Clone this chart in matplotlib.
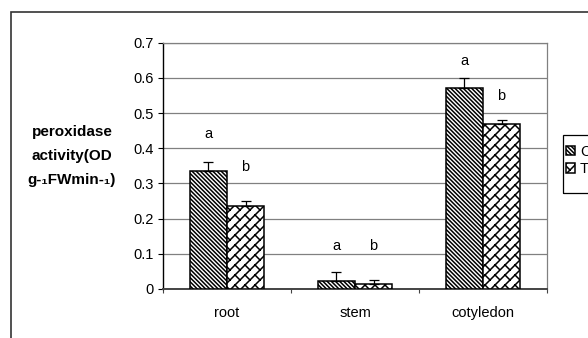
import numpy as np
import matplotlib
matplotlib.use('Agg')
import matplotlib.pyplot as plt
import matplotlib.hatch as mhatch
from matplotlib.path import Path
from matplotlib.patches import Rectangle

# data
categories = ['root', 'stem', 'cotyledon']
series_names = ['C', 'T']
control = [0.334, 0.023, 0.572]
control_err = [0.027, 0.025, 0.027]
treated = [0.237, 0.014, 0.470]
treated_err = [0.013, 0.012, 0.011]
letters_c = ['a', 'a', 'a']
letters_c_y = [0.440, 0.122, 0.648]
letters_t = ['b', 'b', 'b']
letters_t_y = [0.347, 0.122, 0.548]
yticks = [0, 0.1, 0.2, 0.3, 0.4, 0.5, 0.6, 0.7]
ytick_labels = ['0', '0.1', '0.2', '0.3', '0.4', '0.5', '0.6', '0.7']
ylabel = 'peroxidase\nactivity(OD\ng-\u2081FWmin-\u2081)'


# Excel-like "diagonal brick" fill, hooked onto the '*' hatch character
class DiagonalBrick(mhatch.HatchPatternBase):
    def __init__(self, hatch, density):
        self.num_cells = int(hatch.count('*') * density * 5 / 3)
        self.num_vertices = self.num_cells ** 2 * 4

    def set_vertices_and_codes(self, vertices, codes):
        n = self.num_cells
        i, j = np.meshgrid(np.arange(n), np.arange(n))
        x0 = i.ravel() / n
        y0 = j.ravel() / n
        s = 1.0 / n
        vertices[0::4, 0] = x0
        vertices[0::4, 1] = y0
        vertices[1::4, 0] = x0 + s
        vertices[1::4, 1] = y0 + s
        vertices[2::4, 0] = x0 + s / 2
        vertices[2::4, 1] = y0 + s / 2
        vertices[3::4, 0] = x0 + s
        vertices[3::4, 1] = y0
        codes[0::4] = Path.MOVETO
        codes[1::4] = Path.LINETO
        codes[2::4] = Path.MOVETO
        codes[3::4] = Path.LINETO


mhatch._hatch_types = [h for h in mhatch._hatch_types if h is not mhatch.Stars] + [DiagonalBrick]

plt.rcParams['font.family'] = ['Liberation Sans', 'DejaVu Sans']
plt.rcParams['hatch.linewidth'] = 1.1
plt.rcParams['hatch.color'] = 'black'

fig = plt.figure(figsize=(5.88, 3.38), dpi=100)
ax = fig.add_axes([0.2772, 0.145, 0.6531, 0.7287])

# outer chart border (cut off at right and bottom)
fig.patches.append(Rectangle((11 / 588, -0.2), 2.0, 1.2 - 12 / 338, transform=fig.transFigure,
                             fill=False, edgecolor='#333333', linewidth=1.2))
# legend frame, also cut off at the right
fig.patches.append(Rectangle((563 / 588, 1 - 193 / 338), 0.2, 58 / 338, transform=fig.transFigure,
                             fill=False, edgecolor='black', linewidth=0.9))

x = np.arange(len(categories))
w = 0.29
ax.bar(x - w / 2, control, w, facecolor='white', edgecolor='black', linewidth=1.1,
       hatch='\\' * 8, label=series_names[0], zorder=3)
ax.bar(x + w / 2, treated, w, facecolor='white', edgecolor='black', linewidth=1.1,
       hatch='*', label=series_names[1], zorder=3)
ax.errorbar(x - w / 2, control, yerr=[np.zeros(len(control)), control_err], fmt='none',
            ecolor='black', elinewidth=0.9, capsize=3.6, capthick=0.9, zorder=4)
ax.errorbar(x + w / 2, treated, yerr=[np.zeros(len(treated)), treated_err], fmt='none',
            ecolor='black', elinewidth=0.9, capsize=3.6, capthick=0.9, zorder=4)

for xi, t, ty in zip(x - w / 2, letters_c, letters_c_y):
    ax.text(xi, ty, t, ha='center', va='center', fontsize=10.5)
for xi, t, ty in zip(x + w / 2, letters_t, letters_t_y):
    ax.text(xi, ty, t, ha='center', va='center', fontsize=10.5)

ax.set_xlim(-0.5, len(categories) - 0.5)
ax.set_ylim(0, 0.7)
ax.set_yticks(yticks)
ax.set_yticklabels(ytick_labels, fontsize=10.5)
ax.yaxis.grid(True, color='#808080', linewidth=0.9, zorder=0)
ax.set_axisbelow(True)

# category names between the boundary ticks
ax.set_xticks(np.arange(len(categories) + 1) - 0.5)
ax.set_xticklabels([])
ax.set_xticks(x, minor=True)
ax.set_xticklabels(categories, minor=True, fontsize=10.5)
ax.tick_params(axis='x', which='minor', length=0, pad=12)
ax.tick_params(axis='x', which='major', length=3, color='#444444')
ax.tick_params(axis='y', length=3.5, pad=3, color='black')

for side in ['top', 'right']:
    ax.spines[side].set_color('#808080')
    ax.spines[side].set_linewidth(0.9)
ax.spines['left'].set_color('black')
ax.spines['left'].set_linewidth(1.0)
ax.spines['bottom'].set_color('#444444')
ax.spines['bottom'].set_linewidth(1.4)

fig.text(72 / 588, 1 - 156 / 338, ylabel, ha='center', va='center', multialignment='center',
         fontsize=11, fontweight='bold', linespacing=1.9)

ax.legend(loc='upper left', bbox_to_anchor=(566 / 588, 1 - 144.5 / 338),
          bbox_transform=fig.transFigure, borderaxespad=0, fontsize=10.5,
          frameon=False, handlelength=0.6, handleheight=0.6,
          handletextpad=0.35, labelspacing=0.25, borderpad=0)

fig.savefig('out.png', dpi=100)
